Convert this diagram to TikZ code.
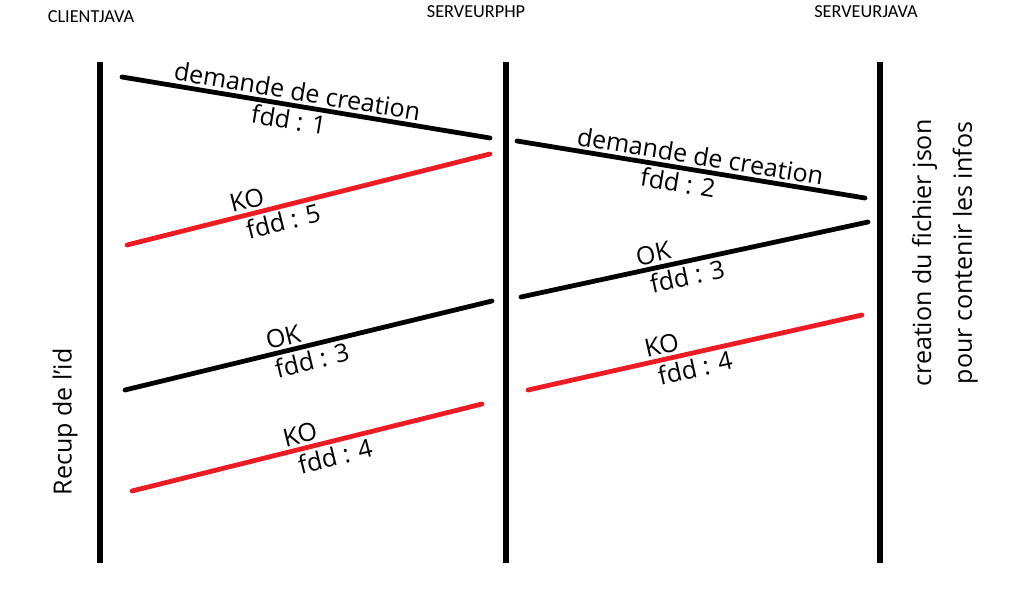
\documentclass[tikz,border=0pt]{standalone}
\usepackage{fontspec}
\setmainfont{Open Sans}
\newfontfamily\headfont{Carlito}
\definecolor{kored}{RGB}{237,28,36}
\tikzset{
  lifeline/.style={line width=3.6pt},
  msg/.style={line width=3.4pt,line cap=round},
  msgko/.style={msg,draw=kored},
  lbl/.style={sloped,inner sep=2pt,font=\fontsize{17.8}{20}\selectfont},
  head/.style={font=\headfont\fontsize{13}{15}\selectfont}
}
\begin{document}
\begin{tikzpicture}[x=0.025cm,y=-0.025cm]
\useasboundingbox (0,0) rectangle (1021,601);

% lifelines
\coordinate (cjt) at (100,62);
\coordinate (cjb) at (100,563);
\coordinate (spt) at (506,62);
\coordinate (spb) at (506,563);
\coordinate (sjt) at (880,62);
\coordinate (sjb) at (880,563);

\node[head] (cj) at (91,17) {CLIENTJAVA};
\node[head] (sp) at (476,12) {SERVEURPHP};
\node[head] (sj) at (866,12) {SERVEURJAVA};

\draw[lifeline] (cjt) -- (cjb);
\draw[lifeline] (spt) -- (spb);
\draw[lifeline] (sjt) -- (sjb);

% message ends
\coordinate (a1) at (122,77);  \coordinate (b1) at (490,138);
\coordinate (a2) at (127,245); \coordinate (b2) at (490,154);
\coordinate (a3) at (125,390); \coordinate (b3) at (492,301);
\coordinate (a4) at (132,491); \coordinate (b4) at (482,404);
\coordinate (a5) at (517,141); \coordinate (b5) at (865,198);
\coordinate (a6) at (521,297); \coordinate (b6) at (868,222);
\coordinate (a7) at (528,390); \coordinate (b7) at (862,315);

% client <-> php
\draw[msg] (a1) -- (b1)
  node[lbl,above,pos=.47] (m1) {demande de creation}
  node[lbl,below,pos=.46] (f1) {fdd : 1};
\draw[msgko] (a2) -- (b2)
  node[lbl,above,pos=.34] (m2) {KO}
  node[lbl,below,pos=.42] (f2) {fdd : 5};
\draw[msg] (a3) -- (b3)
  node[lbl,above,pos=.44] (m3) {OK}
  node[lbl,below,pos=.50] (f3) {fdd : 3};
\draw[msgko] (a4) -- (b4)
  node[lbl,above,pos=.49] (m4) {KO}
  node[lbl,below,pos=.57] (f4) {fdd : 4};

% php <-> java
\draw[msg] (a5) -- (b5)
  node[lbl,above,pos=.52] (m5) {demande de creation}
  node[lbl,below,pos=.47] (f5) {fdd : 2};
\draw[msg] (a6) -- (b6)
  node[lbl,above,pos=.39] (m6) {OK}
  node[lbl,below,pos=.47] (f6) {fdd : 3};
\draw[msgko] (a7) -- (b7)
  node[lbl,above,pos=.41] (m7) {KO}
  node[lbl,below,pos=.49] (f7) {fdd : 4};

\node[rotate=90,font=\fontsize{17.8}{20}\selectfont] (recup) at (65,422) {Recup de l'id};
\node[rotate=90,align=center,font=\fontsize{17.8}{29}\selectfont] (json) at (945,253)
  {creation du fichier json\\pour contenir les infos};

\end{tikzpicture}
\end{document}
